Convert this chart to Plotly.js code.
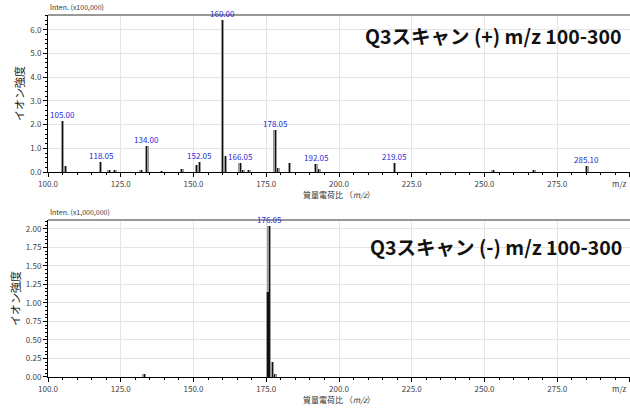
<!DOCTYPE html>
<html><head><meta charset="utf-8">
<script src="https://cdn.plot.ly/plotly-3.0.1.min.js"></script>
<style>html,body{margin:0;padding:0;background:#fff}#chart{width:630px;height:408px}</style>
</head><body><div id="chart"></div>
<script>
// Q3 scan (+): m/z and intensity (x100,000)
const posMz  = [105.00, 106.0, 118.05, 121.0, 123.0, 132.0, 134.00, 139.0, 146.0, 151.0, 152.05, 160.00, 161.0, 166.05, 167.0, 169.0, 178.05, 179.0, 183.0, 192.05, 193.0, 219.05, 253.0, 267.0, 285.10];
const posInt = [2.15,   0.25,  0.44,   0.08,  0.08,  0.10,  1.08,   0.05,  0.12,  0.30,  0.44,   6.40,   0.68,  0.36,   0.10,  0.07,  1.78,   0.15,  0.38,  0.34,   0.14,  0.40,   0.08,  0.10,  0.26];
const posLabels = ['105.00','118.05','134.00','152.05','160.00','166.05','178.05','192.05','219.05','285.10'];
// Q3 scan (-): m/z and intensity (x1,000,000)
const negMz  = [133.0, 175.6, 176.05, 177.0, 178.0];
const negInt = [0.04,  1.15,  2.04,   0.20,  0.04];
const negLabels = ['176.05'];

const xTickVals = [100, 125, 150, 175, 200, 225, 250, 275, 300];
const xTickText = ['100.0', '125.0', '150.0', '175.0', '200.0', '225.0', '250.0', '275.0', ''];
const xEndLabel = 'm/z';
const posYTicks = [0, 1, 2, 3, 4, 5, 6];
const negYTicks = [0, 0.25, 0.5, 0.75, 1.0, 1.25, 1.5, 1.75, 2.0];

const FONT = '"Noto Sans CJK JP", "DejaVu Sans", sans-serif';
const tickFont = {family: FONT, size: 8, color: '#444'};

function peakTraces(mz, inten, xa, ya) {
  return [
    {type: 'bar', x: mz, y: inten, width: 1.3, marker: {color: '#9a9a9a', line: {width: 0}}, xaxis: xa, yaxis: ya, hoverinfo: 'x+y'},
    {type: 'bar', x: mz, y: inten, width: 0.35, marker: {color: '#111', line: {width: 0}}, xaxis: xa, yaxis: ya, hoverinfo: 'skip'}
  ];
}

function labelAnns(labels, mz, inten, xa, ya) {
  return labels.map(t => {
    const v = parseFloat(t);
    let best = 0;
    mz.forEach((m, i) => { if (Math.abs(m - v) < Math.abs(mz[best] - v)) best = i; });
    return {x: v, y: inten[best], xref: xa, yref: ya, text: t, showarrow: false, yanchor: 'bottom', yshift: -1,
            font: {family: FONT, size: 8, color: '#2a2ad8'}};
  });
}

const data = [...peakTraces(posMz, posInt, 'x', 'y'), ...peakTraces(negMz, negInt, 'x2', 'y2')];

function xAxis(anchor) {
  return {
    domain: [0.0762, 1], range: [100, 300], anchor: anchor,
    tickvals: xTickVals, ticktext: xTickText, tickfont: tickFont,
    ticks: 'outside', ticklen: 4, tickcolor: '#000', showline: true, linecolor: '#000', linewidth: 1,
    showgrid: true, gridcolor: '#e4e4e4', gridwidth: 1, zeroline: false,
    minor: {dtick: 5, ticks: 'outside', ticklen: 2, tickcolor: '#000', tickwidth: 1, showgrid: false},
    title: {text: '質量電荷比 （<i>m/z</i>）', font: {family: FONT, size: 8, color: '#333'}, standoff: 2}
  };
}
function yAxis(anchor, domain, range, ticks, fmt, minorD) {
  return {
    domain: domain, range: range, anchor: anchor,
    tickvals: ticks, tickformat: fmt, tickfont: tickFont,
    ticks: 'outside', ticklen: 4, tickcolor: '#000', showline: true, linecolor: '#000', linewidth: 1,
    showgrid: true, gridcolor: '#e4e4e4', gridwidth: 1, zeroline: false,
    minor: {dtick: minorD, ticks: 'outside', ticklen: 2, tickcolor: '#000', tickwidth: 1, showgrid: false},
    title: {text: 'イオン強度', font: {family: FONT, size: 11, color: '#222'}, standoff: 3}
  };
}

const layout = {
  width: 630, height: 408, margin: {l: 0, r: 0, t: 0, b: 0},
  paper_bgcolor: '#fff', plot_bgcolor: '#fff', showlegend: false,
  barmode: 'overlay', bargap: 0,
  xaxis: xAxis('y'),
  yaxis: yAxis('x', [0.5784, 0.9632], [0, 6.62], posYTicks, '.1f', 0.2),
  xaxis2: xAxis('y2'),
  yaxis2: yAxis('x2', [0.076, 0.4608], [0, 2.12], negYTicks, '.2f', 0.05),
  shapes: [
    {type: 'line', xref: 'x domain', yref: 'y domain', x0: 0, x1: 1, y0: 1, y1: 1, line: {color: '#999', width: 2}},
    {type: 'line', xref: 'x2 domain', yref: 'y2 domain', x0: 0, x1: 1, y0: 1, y1: 1, line: {color: '#999', width: 2}}
  ],
  annotations: [
    ...labelAnns(posLabels, posMz, posInt, 'x', 'y'),
    ...labelAnns(negLabels, negMz, negInt, 'x2', 'y2'),
    {xref: 'x domain', yref: 'y domain', x: 1, y: 0, xanchor: 'right', yanchor: 'top', yshift: -4, xshift: -1, showarrow: false,
     text: xEndLabel, font: {family: FONT, size: 8, color: '#444'}},
    {xref: 'x2 domain', yref: 'y2 domain', x: 1, y: 0, xanchor: 'right', yanchor: 'top', yshift: -4, xshift: -1, showarrow: false,
     text: xEndLabel, font: {family: FONT, size: 8, color: '#444'}},
    {xref: 'x domain', yref: 'y domain', x: 0, y: 1, xanchor: 'left', yanchor: 'bottom', yshift: 1, showarrow: false,
     text: 'Inten. (x100,000)', font: {family: FONT, size: 7, color: '#333'}},
    {xref: 'x2 domain', yref: 'y2 domain', x: 0, y: 1, xanchor: 'left', yanchor: 'bottom', yshift: 1, showarrow: false,
     text: 'Inten. (x1,000,000)', font: {family: FONT, size: 7, color: '#333'}},
    {xref: 'paper', yref: 'paper', x: 0.99, y: 0.914, xanchor: 'right', yanchor: 'middle', showarrow: false,
     text: '<b>Q3スキャン (+) m/z 100-300</b>', font: {family: FONT, size: 19.5, color: '#111'}},
    {xref: 'paper', yref: 'paper', x: 0.99, y: 0.395, xanchor: 'right', yanchor: 'middle', showarrow: false,
     text: '<b>Q3スキャン (-) m/z 100-300</b>', font: {family: FONT, size: 19.5, color: '#111'}}
  ]
};

Plotly.newPlot('chart', data, layout, {displayModeBar: false, staticPlot: true});
</script>
</body></html>
